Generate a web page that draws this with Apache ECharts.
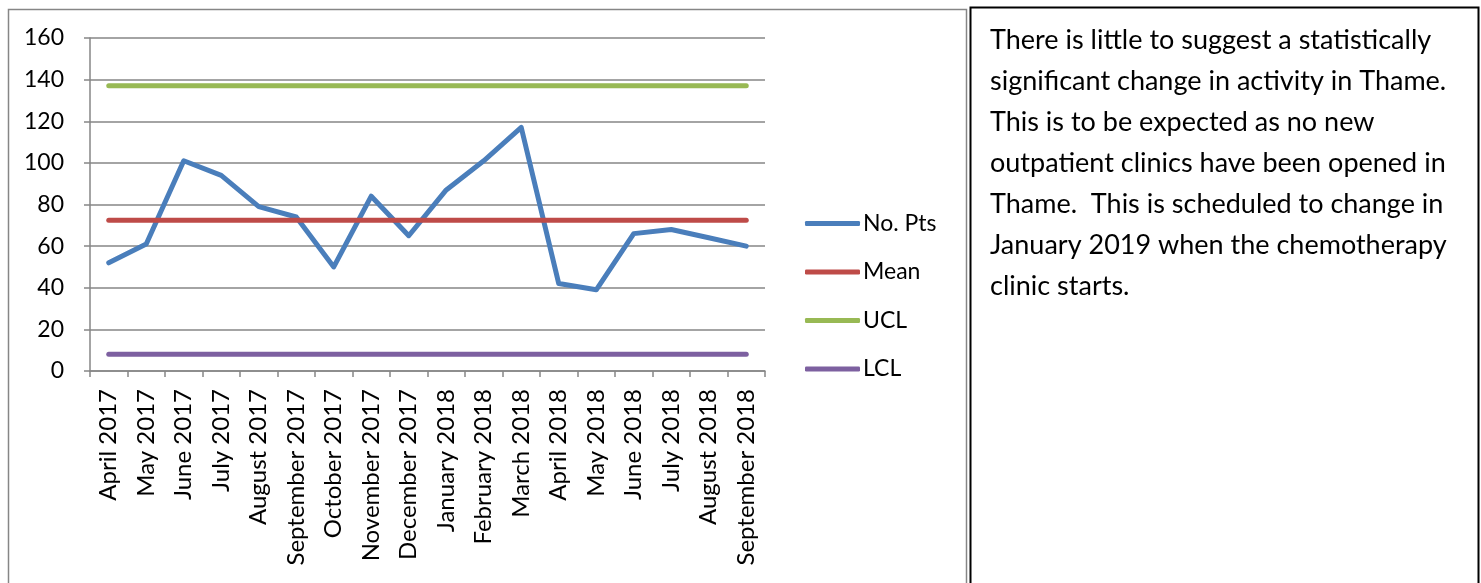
<!DOCTYPE html>
<html>
<head>
<meta charset="utf-8">
<script src="https://cdn.jsdelivr.net/npm/echarts@6/dist/echarts.min.js"></script>
<style>
  html, body { margin: 0; padding: 0; background: #fff; }
  #chart { width: 1481px; height: 583px; }
</style>
</head>
<body>
<div id="chart"></div>
<script>
// Monthly patient counts with control-chart limits
const months = [
  'April 2017', 'May 2017', 'June 2017', 'July 2017', 'August 2017', 'September 2017',
  'October 2017', 'November 2017', 'December 2017', 'January 2018', 'February 2018', 'March 2018',
  'April 2018', 'May 2018', 'June 2018', 'July 2018', 'August 2018', 'September 2018'
];
const noPts = [52, 61, 101, 94, 79, 74, 50, 84, 65, 87, 101, 117, 42, 39, 66, 68, 64, 60];
const meanValue = 72.4;
const uclValue = 137;
const lclValue = 8;
const yTicks = [0, 20, 40, 60, 80, 100, 120, 140, 160];

const commentLines = [
  'There is little to suggest a statistically',
  'significant change in activity in Thame.',
  'This is to be expected as no new',
  'outpatient clinics have been opened in',
  'Thame.  This is scheduled to change in',
  'January 2019 when the chemotherapy',
  'clinic starts.'
];

const FONT = 'Lato, "Open Sans", sans-serif';
const flat = v => months.map(() => v);

const chart = echarts.init(document.getElementById('chart'), null, { renderer: 'canvas' });

const lineSeries = (name, data, color) => ({
  name, type: 'line', data,
  symbol: 'none',
  lineStyle: { color, width: 5, cap: 'round', join: 'round' },
  itemStyle: { color },
  emphasis: { disabled: true },
  animation: false
});

chart.setOption({
  animation: false,
  textStyle: { fontFamily: FONT },
  grid: { left: 90, right: 716, top: 38, bottom: 212, containLabel: false },
  legend: {
    orient: 'vertical',
    left: 805,
    top: 212,
    padding: 0,
    itemWidth: 55,
    itemHeight: 5,
    itemGap: 25.5,
    icon: 'roundRect',
    textStyle: { fontFamily: FONT, fontSize: 23, color: '#000', padding: [0, 0, 0, -2] },
    data: ['No. Pts', 'Mean', 'UCL', 'LCL']
  },
  xAxis: {
    type: 'category',
    data: months,
    boundaryGap: true,
    axisLine: { lineStyle: { color: '#868686', width: 1.5 } },
    axisTick: { show: true, length: 6, interval: 0, lineStyle: { color: '#868686', width: 1.5 } },
    axisLabel: {
      interval: 0, rotate: 90, fontFamily: FONT, fontSize: 24, color: '#000', margin: 18
    },
    splitLine: { show: false }
  },
  yAxis: {
    type: 'value',
    min: yTicks[0],
    max: yTicks[yTicks.length - 1],
    interval: 20,
    axisLine: { show: true, lineStyle: { color: '#868686', width: 1.5 } },
    axisTick: { show: true, length: 6, lineStyle: { color: '#868686', width: 1.5 } },
    axisLabel: { fontFamily: FONT, fontSize: 23, color: '#000', margin: 26 },
    splitLine: { show: true, lineStyle: { color: '#868686', width: 1.5 } }
  },
  series: [
    lineSeries('No. Pts', noPts, '#4a7ebb'),
    lineSeries('Mean', flat(meanValue), '#be4b48'),
    lineSeries('UCL', flat(uclValue), '#98b954'),
    lineSeries('LCL', flat(lclValue), '#7d60a0')
  ],
  graphic: [
    {
      type: 'rect', silent: true,
      shape: { x: 8.5, y: 9.5, width: 958, height: 600 },
      style: { fill: null, stroke: '#868686', lineWidth: 1.5 }
    },
    {
      type: 'rect', silent: true,
      shape: { x: 970.5, y: 7.5, width: 508, height: 600 },
      style: { fill: '#fff', stroke: '#000', lineWidth: 2 }
    },
    {
      type: 'text', silent: true,
      left: 990, top: 20,
      style: {
        text: commentLines.join('\n'),
        font: '27px ' + FONT,
        fill: '#000',
        lineHeight: 41
      }
    }
  ]
});
</script>
</body>
</html>
